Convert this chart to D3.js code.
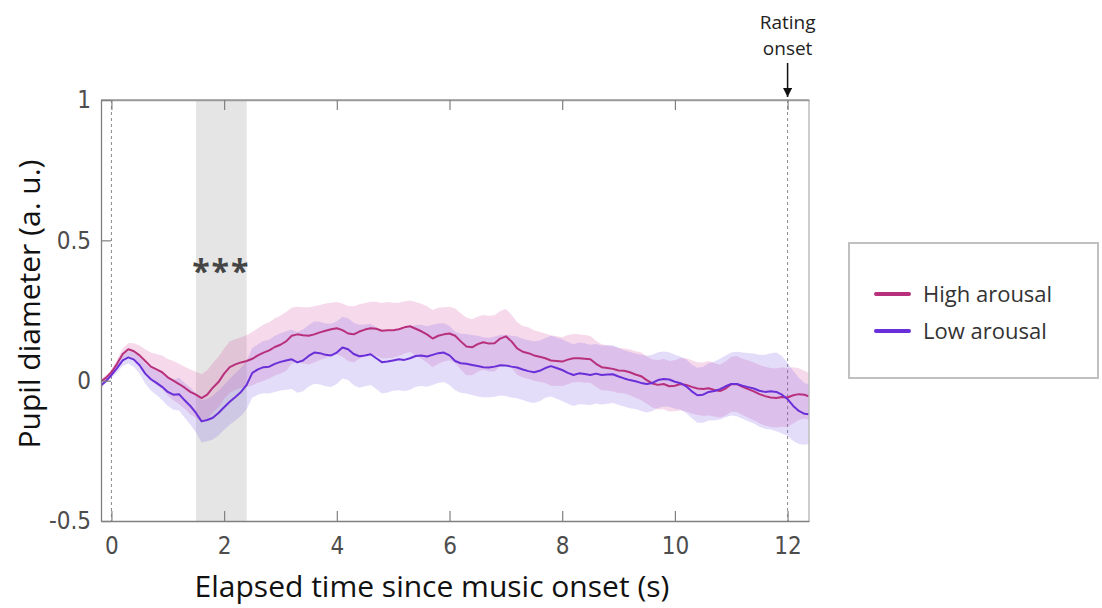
<!DOCTYPE html>
<html><head><meta charset="utf-8">
<script src="https://cdn.jsdelivr.net/npm/d3@7"></script>
<style>body{margin:0;background:#fff}svg{display:block}</style>
</head><body>
<svg id="c" width="1102" height="608"></svg>
<script>
// ---- data ----
const timeStart = -0.2, timeStep = 0.1;   // sample grid (s)
const highMean = [-0.005,0.01,0.03,0.06,0.095,0.112,0.105,0.09,0.07,0.05,
0.04,0.03,0.012,0.0,-0.012,-0.025,-0.04,-0.05,-0.062,-0.05,
-0.025,-0.005,0.025,0.048,0.058,0.065,0.07,0.078,0.09,0.10,
0.108,0.12,0.128,0.14,0.16,0.165,0.162,0.16,0.165,0.172,
0.178,0.183,0.187,0.18,0.168,0.165,0.175,0.182,0.187,0.185,
0.178,0.18,0.18,0.183,0.19,0.194,0.185,0.176,0.165,0.15,
0.16,0.165,0.168,0.16,0.14,0.122,0.119,0.13,0.137,0.132,
0.133,0.15,0.158,0.14,0.115,0.103,0.098,0.09,0.085,0.08,
0.072,0.07,0.068,0.075,0.08,0.08,0.078,0.076,0.06,0.048,
0.045,0.042,0.036,0.035,0.03,0.022,0.016,0.002,-0.01,-0.015,
-0.012,-0.02,-0.018,-0.012,-0.015,-0.022,-0.028,-0.03,-0.027,-0.033,
-0.037,-0.028,-0.013,-0.012,-0.022,-0.03,-0.038,-0.048,-0.055,-0.06,
-0.062,-0.058,-0.06,-0.052,-0.048,-0.05,-0.058];
const lowMean = [-0.02,-0.002,0.02,0.045,0.072,0.083,0.075,0.055,0.025,0.005,
-0.008,-0.022,-0.04,-0.05,-0.048,-0.07,-0.09,-0.115,-0.145,-0.14,
-0.132,-0.115,-0.095,-0.075,-0.058,-0.04,-0.015,0.028,0.04,0.048,
0.05,0.06,0.067,0.072,0.076,0.065,0.072,0.088,0.1,0.098,
0.092,0.09,0.1,0.118,0.112,0.095,0.087,0.09,0.094,0.08,
0.066,0.068,0.072,0.076,0.074,0.08,0.088,0.09,0.086,0.092,
0.098,0.10,0.09,0.07,0.062,0.06,0.056,0.052,0.048,0.047,
0.05,0.055,0.054,0.05,0.047,0.04,0.034,0.03,0.035,0.045,
0.052,0.045,0.038,0.028,0.02,0.026,0.024,0.02,0.025,0.02,
0.022,0.023,0.015,0.008,0.002,-0.002,-0.008,-0.012,-0.008,0.002,
0.006,0.004,-0.004,-0.009,-0.02,-0.038,-0.052,-0.05,-0.04,-0.037,
-0.03,-0.02,-0.012,-0.012,-0.018,-0.023,-0.028,-0.036,-0.04,-0.038,
-0.04,-0.05,-0.066,-0.09,-0.108,-0.118,-0.12];
const highSE = [0.008,0.008,0.01,0.015,0.02,0.022,0.028,0.035,0.042,0.05,
0.055,0.06,0.065,0.07,0.072,0.075,0.08,0.082,0.085,0.087,
0.088,0.09,0.09,0.092,0.09,0.09,0.092,0.095,0.097,0.1,
0.1,0.102,0.103,0.105,0.1,0.098,0.1,0.102,0.1,0.098,
0.097,0.095,0.093,0.095,0.098,0.1,0.097,0.095,0.094,0.096,
0.099,0.1,0.098,0.095,0.093,0.092,0.095,0.098,0.1,0.102,
0.1,0.097,0.095,0.097,0.1,0.103,0.1,0.098,0.097,0.099,
0.1,0.098,0.097,0.095,0.094,0.092,0.092,0.09,0.089,0.088,
0.09,0.088,0.087,0.088,0.086,0.085,0.085,0.083,0.082,0.082,
0.08,0.081,0.08,0.08,0.082,0.083,0.085,0.084,0.086,0.088,
0.09,0.09,0.091,0.093,0.095,0.095,0.094,0.095,0.097,0.095,
0.094,0.096,0.098,0.1,0.1,0.102,0.103,0.104,0.105,0.105,
0.105,0.106,0.105,0.1,0.092,0.085,0.082];
const lowSE = [0.008,0.008,0.01,0.015,0.02,0.022,0.026,0.03,0.035,0.04,
0.043,0.047,0.05,0.054,0.058,0.062,0.066,0.07,0.075,0.076,
0.078,0.08,0.08,0.082,0.084,0.086,0.087,0.088,0.09,0.093,
0.096,0.1,0.102,0.104,0.106,0.108,0.11,0.11,0.111,0.112,
0.112,0.113,0.112,0.11,0.11,0.111,0.112,0.11,0.109,0.11,
0.112,0.11,0.108,0.11,0.111,0.112,0.11,0.109,0.108,0.107,
0.106,0.105,0.105,0.104,0.105,0.106,0.107,0.108,0.107,0.106,
0.107,0.108,0.109,0.11,0.11,0.109,0.11,0.11,0.108,0.106,
0.108,0.109,0.11,0.11,0.11,0.11,0.109,0.108,0.106,0.105,
0.104,0.103,0.102,0.1,0.1,0.099,0.1,0.101,0.1,0.099,
0.098,0.097,0.096,0.095,0.095,0.096,0.098,0.1,0.102,0.105,
0.108,0.11,0.112,0.115,0.118,0.122,0.125,0.128,0.132,0.136,
0.14,0.138,0.13,0.125,0.118,0.11,0.105];
const xTicks = [0,2,4,6,8,10,12];
const yTicks = [-0.5,0,0.5,1];
const yTickLabels = ["-0.5","0","0.5","1"];
const sigWindow = [1.5, 2.4];
const markerTimes = [0, 12];
const seriesNames = ["High arousal","Low arousal"];
const seriesColors = ["#b8307c","#6a2fd8"];
const bandColors = ["#d0479a","#7a55e6"];

// ---- layout ----
const svg = d3.select("#c");
const L = 101, R = 809, T = 100, B = 521;
const x = d3.scaleLinear().domain([-0.185, 12.38]).range([L, R]);
const y = d3.scaleLinear().domain([-0.5, 1]).range([B, T]);
const font = "'Open Sans','Noto Sans',sans-serif";
const tickFont = "'Liberation Sans Narrow','DejaVu Sans Condensed','Open Sans',sans-serif";

svg.append("rect").attr("width",1102).attr("height",608).attr("fill","#fff");
svg.append("defs").append("clipPath").attr("id","clip")
  .append("rect").attr("x",L).attr("y",T).attr("width",R-L).attr("height",B-T);
svg.select("defs").append("marker").attr("id","arr").attr("viewBox","0 0 10 10")
  .attr("refX",10).attr("refY",5).attr("markerWidth",6).attr("markerHeight",6).attr("orient","auto")
  .append("path").attr("d","M0,0L10,5L0,10z").attr("fill","#111");

const g = svg.append("g").attr("clip-path","url(#clip)");
// significance window
g.append("rect").attr("x",x(sigWindow[0])).attr("y",T)
  .attr("width",x(sigWindow[1])-x(sigWindow[0])).attr("height",B-T).attr("fill","#e5e5e5");
// marker dashed lines
g.selectAll("line.mk").data(markerTimes).join("line").attr("class","mk")
  .attr("x1",d=>x(d)).attr("x2",d=>x(d)).attr("y1",T).attr("y2",B)
  .attr("stroke","#8a8a8a").attr("stroke-width",1).attr("stroke-dasharray","3,3");

const t = i => timeStart + i*timeStep;
const means = [highMean, lowMean], ses = [highSE, lowSE];
means.forEach((m, k) => {
  const area = d3.area().x((d,i)=>x(t(i))).y0((d,i)=>y(d - ses[k][i])).y1((d,i)=>y(d + ses[k][i]));
  g.append("path").datum(m).attr("d",area).attr("fill",bandColors[k]).attr("fill-opacity",0.2);
});
means.forEach((m, k) => {
  const line = d3.line().x((d,i)=>x(t(i))).y(d=>y(d));
  g.append("path").datum(m).attr("d",line).attr("fill","none")
    .attr("stroke",seriesColors[k]).attr("stroke-width",2).attr("stroke-linejoin","round");
});

// frame
svg.append("line").attr("x1",L).attr("x2",R).attr("y1",T).attr("y2",T).attr("stroke","#9a9a9a").attr("stroke-width",1.3);
svg.append("line").attr("x1",R).attr("x2",R).attr("y1",T).attr("y2",B).attr("stroke","#bdbdbd").attr("stroke-width",1.5);
// axes via d3
const xAx = svg.append("g").attr("transform",`translate(0,${B})`)
  .call(d3.axisBottom(x).tickValues(xTicks).tickSizeInner(-10).tickSizeOuter(0).tickPadding(16));
const xTop = svg.append("g").attr("transform",`translate(0,${T})`)
  .call(d3.axisTop(x).tickValues(xTicks).tickSizeInner(-10).tickSizeOuter(0).tickFormat(""));
const yAx = svg.append("g").attr("transform",`translate(${L},0)`)
  .call(d3.axisLeft(y).tickValues(yTicks).tickSizeInner(-10).tickSizeOuter(0).tickPadding(10)
    .tickFormat((d,i)=>yTickLabels[i]));
[xAx,xTop,yAx].forEach(a=>{
  a.select(".domain").attr("stroke","#808080").attr("stroke-width",1.3);
  a.selectAll(".tick line").attr("stroke","#808080").attr("stroke-width",1.2);
  a.selectAll("text").attr("fill","#4d4d4d").style("font-family",tickFont).style("font-size","24px");
});
xTop.select(".domain").attr("stroke","#9a9a9a");

// significance stars
svg.append("text").attr("x",(x(sigWindow[0])+x(sigWindow[1]))/2).attr("y",283)
  .attr("text-anchor","middle").attr("fill","#444").style("font-family",font)
  .style("font-weight","bold").style("font-size","32px").style("letter-spacing","2px").text("***");

// axis titles
svg.append("text").attr("x",432).attr("y",597).attr("text-anchor","middle").attr("fill","#111")
  .style("font-family",font).style("font-size","30px").text("Elapsed time since music onset (s)");
svg.append("text").attr("transform","translate(40,304) rotate(-90)").attr("text-anchor","middle").attr("fill","#111")
  .style("font-family",font).style("font-size","30px").text("Pupil diameter (a. u.)");

// rating onset annotation
const ra = svg.append("g").attr("fill","#222").style("font-family",font).style("font-size","19px").attr("text-anchor","middle");
ra.append("text").attr("x",x(12)).attr("y",29).text("Rating");
ra.append("text").attr("x",x(12)).attr("y",55).text("onset");
svg.append("line").attr("x1",x(12)).attr("x2",x(12)).attr("y1",63).attr("y2",97)
  .attr("stroke","#111").attr("stroke-width",1.5).attr("marker-end","url(#arr)");

// legend
const lg = svg.append("g");
lg.append("rect").attr("x",849).attr("y",243).attr("width",249).attr("height",135)
  .attr("fill","#fff").attr("stroke","#c0c0c0").attr("stroke-width",2);
seriesNames.forEach((n,k)=>{
  const yy = 294 + k*37;
  lg.append("line").attr("x1",876).attr("x2",909).attr("y1",yy).attr("y2",yy)
    .attr("stroke",seriesColors[k]).attr("stroke-width",4).attr("stroke-linecap","round");
  lg.append("text").attr("x",923).attr("y",yy+8).attr("fill","#333")
    .style("font-family",font).style("font-size","22px").text(n);
});
</script>
</body></html>
